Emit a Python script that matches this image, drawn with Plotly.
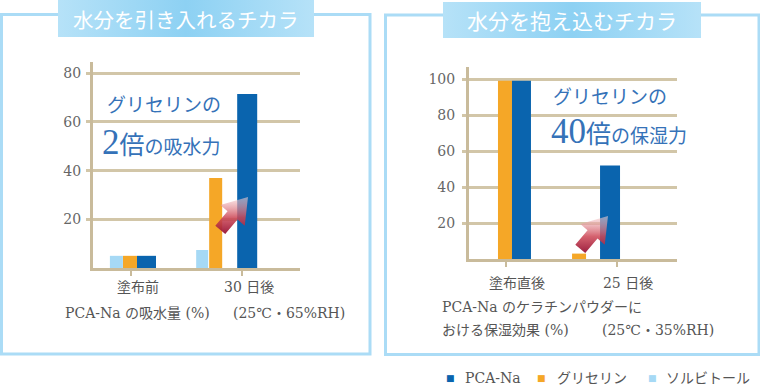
import plotly.graph_objects as go

W, H = 760, 386

# ---------------- data ----------------
series_names = ['PCA-Na', 'グリセリン', 'ソルビトール']

left_cats = ['塗布前', '30 日後']
left_pca = [5, 71.5]
left_gly = [5, 37]
left_sor = [5, 7.4]
left_ticks = [20, 40, 60, 80]

right_cats = ['塗布直後', '25 日後']
right_pca = [99, 52]
right_gly = [99, 3]
right_ticks = [20, 40, 60, 80, 100]

left_title = '水分を引き入れるチカラ'
right_title = '水分を抱え込むチカラ'
left_note1 = 'グリセリンの'
left_note2_big, left_note2_mid, left_note2_rest = '2', '倍', 'の吸水力'
right_note1 = 'グリセリンの'
right_note2_big, right_note2_mid, right_note2_rest = '40', '倍', 'の保湿力'
left_caption_a = 'PCA-Na の吸水量 (%)'
left_caption_b = '(25℃・65%RH)'
right_caption_1 = 'PCA-Na のケラチンパウダーに'
right_caption_2a = 'おける保湿効果 (%)'
right_caption_2b = '(25℃・35%RH)'

# ---------------- styles ----------------
C_PCA = '#0a64ae'
C_GLY = '#f5a727'
C_SOR = '#a6d9f5'
C_GRID = '#d2c6a8'
C_AXIS = '#c9bb9b'
C_TEXT = '#555555'
C_NOTE = '#3572b8'
C_FRAME = '#abdcf6'
SERIF = "'DejaVu Serif', 'Noto Sans CJK JP', serif"
SANS = "'Noto Sans CJK JP', sans-serif"

# per-bar offsets / widths (category units)
off_l_sor, wid_l_sor = [-0.19, -0.414], [0.117, 0.108]
off_l_gly, wid_l_gly = [-0.072, -0.297], [0.126, 0.117]
off_l_pca, wid_l_pca = [0.054, -0.045], [0.171, 0.18]
off_r_gly, wid_r_gly = [-0.072, -0.405], [0.126, 0.126]
off_r_pca, wid_r_pca = [0.054, -0.153], [0.171, 0.18]


def px_x(a, b):
    return [a / W, b / W]


def px_y(top, bottom):
    return [1 - bottom / H, 1 - top / H]


fig = go.Figure()

# left chart bars
fig.add_trace(go.Bar(x=left_cats, y=left_sor, name=series_names[2], marker=dict(color=C_SOR, line=dict(width=0)),
                     offset=off_l_sor, width=wid_l_sor, xaxis='x', yaxis='y', showlegend=False))
fig.add_trace(go.Bar(x=left_cats, y=left_gly, name=series_names[1], marker=dict(color=C_GLY, line=dict(width=0)),
                     offset=off_l_gly, width=wid_l_gly, xaxis='x', yaxis='y', showlegend=False))
fig.add_trace(go.Bar(x=left_cats, y=left_pca, name=series_names[0], marker=dict(color=C_PCA, line=dict(width=0)),
                     offset=off_l_pca, width=wid_l_pca, xaxis='x', yaxis='y', showlegend=False))
# right chart bars
fig.add_trace(go.Bar(x=right_cats, y=right_gly, name=series_names[1], marker=dict(color=C_GLY, line=dict(width=0)),
                     offset=off_r_gly, width=wid_r_gly, xaxis='x2', yaxis='y2', showlegend=False))
fig.add_trace(go.Bar(x=right_cats, y=right_pca, name=series_names[0], marker=dict(color=C_PCA, line=dict(width=0)),
                     offset=off_r_pca, width=wid_r_pca, xaxis='x2', yaxis='y2', showlegend=False))

# ---------------- decorations on a pixel overlay ----------------
def box(x0, y0, x1, y1):
    return [x0, x1, x1, x0, x0], [y0, y0, y1, y1, y0]

title_scale = [[0, '#b6e2f8'], [0.5, '#8dd1f3'], [1, '#b6e2f8']]
for (x0, y0, x1, y1) in [(58, 0, 314, 37), (443, 2, 701, 38)]:
    bx, by = box(x0, y0, x1, y1)
    fig.add_trace(go.Scatter(x=bx, y=by, fill='toself', mode='none', xaxis='x3', yaxis='y3',
                             fillgradient=dict(type='horizontal', colorscale=title_scale),
                             hoverinfo='skip', showlegend=False))


def arrow(tx, ty):
    ux, uy = 0.645, -0.764
    nx, ny = 0.764, 0.645
    head_len, head_w, shaft_w, total = 24, 16, 6.5, 43
    bx, by = tx - head_len * ux, ty - head_len * uy
    cx, cy = tx - total * ux, ty - total * uy
    pts = [(tx, ty),
           (bx + head_w * nx, by + head_w * ny),
           (bx + shaft_w * nx, by + shaft_w * ny),
           (cx + shaft_w * nx, cy + shaft_w * ny),
           (cx - shaft_w * nx, cy - shaft_w * ny),
           (bx - shaft_w * nx, by - shaft_w * ny),
           (bx - head_w * nx, by - head_w * ny),
           (tx, ty)]
    return [p[0] for p in pts], [p[1] for p in pts]

arrow_scale = [[0, 'rgba(150,18,52,0.95)'], [0.45, 'rgba(205,70,85,0.85)'], [1, 'rgba(248,215,215,0.55)']]
for (tx, ty) in [(248, 197), (608, 216)]:
    ax_, ay_ = arrow(tx, ty)
    fig.add_trace(go.Scatter(x=ax_, y=ay_, fill='toself', mode='none', xaxis='x3', yaxis='y3',
                             fillgradient=dict(type='vertical', colorscale=arrow_scale),
                             hoverinfo='skip', showlegend=False))

shapes = []
for (x0, y0, x1, y1) in [(1.5, 14.5, 370, 354), (385.5, 15, 759, 354.5)]:
    shapes.append(dict(type='rect', xref='x3', yref='y3', x0=x0, y0=y0, x1=x1, y1=y1,
                       line=dict(color=C_FRAME, width=3), fillcolor='rgba(0,0,0,0)', layer='below'))

ann = []
def A(x, y, text, size, color=C_TEXT, family=SERIF, xanchor='left'):
    ann.append(dict(x=x, y=y, xref='x3', yref='y3', text=text, showarrow=False, xanchor=xanchor,
                    yanchor='middle', borderpad=0, font=dict(size=size, color=color, family=family)))

A(186, 18.5, left_title, 20.5, 'white', SANS, 'center')
A(572, 20, right_title, 21, 'white', SANS, 'center')

A(106, 103, left_note1, 19, C_NOTE, SANS)
A(101, 142, f'<span style="font-family:Liberation Serif;font-size:35px">{left_note2_big}</span>'
            f'<span style="font-size:25px">{left_note2_mid}</span>{left_note2_rest}', 19, C_NOTE, SANS)
A(552, 95, right_note1, 19, C_NOTE, SANS)
A(550, 131, f'<span style="font-family:Liberation Serif;font-size:35px">{right_note2_big}</span>'
            f'<span style="font-size:25px">{right_note2_mid}</span>{right_note2_rest}', 19, C_NOTE, SANS)

A(64, 313, left_caption_a, 14)
A(232, 313, left_caption_b, 14)
A(441, 307, right_caption_1, 14)
A(441, 330, right_caption_2a, 14)
A(601, 330, right_caption_2b, 14)

# legend
for (sx, tx, name, col) in [(450, 464, series_names[0], C_PCA), (541, 556, series_names[1], C_GLY),
                            (652, 665, series_names[2], C_SOR)]:
    A(sx, 378, '■', 9, col, 'DejaVu Sans', 'center')
    A(tx, 378, name, 14)

tick_font = dict(size=14, color='#666666', family=SERIF)
cat_font = dict(size=14, color=C_TEXT, family=SERIF)

fig.update_layout(
    width=W, height=H, autosize=False,
    margin=dict(l=0, r=0, t=0, b=0),
    paper_bgcolor='white', plot_bgcolor='rgba(0,0,0,0)',
    barmode='overlay', showlegend=False,
    shapes=shapes, annotations=ann,
    xaxis=dict(domain=px_x(93, 300), type='category', range=[-0.342, 1.52], anchor='y',
               showline=True, linecolor=C_AXIS, linewidth=3, showgrid=False, zeroline=False,
               ticks='outside', ticklen=5, tickwidth=2, tickcolor=C_AXIS, tickfont=cat_font,
               ticklabelstandoff=-1, ticklabelshift=7, fixedrange=True),
    yaxis=dict(domain=px_y(62, 268), range=[0, 84.6], anchor='x', tickvals=left_ticks,
               showline=True, linecolor=C_AXIS, linewidth=3, showgrid=True, gridcolor=C_GRID, gridwidth=2.5,
               zeroline=False, ticks='outside', ticklen=4, tickwidth=2.5, tickcolor=C_GRID,
               tickfont=tick_font, ticklabelstandoff=2, fixedrange=True),
    xaxis2=dict(domain=px_x(469, 677), type='category', range=[-0.333, 1.54], anchor='y2',
                showline=True, linecolor=C_AXIS, linewidth=3, showgrid=False, zeroline=False,
                ticks='outside', ticklen=5, tickwidth=2, tickcolor=C_AXIS, tickfont=cat_font,
                ticklabelstandoff=4, ticklabelshift=11, fixedrange=True),
    yaxis2=dict(domain=px_y(67, 259), range=[0, 106.7], anchor='x2', tickvals=right_ticks,
                showline=True, linecolor=C_AXIS, linewidth=3, showgrid=True, gridcolor=C_GRID, gridwidth=2.5,
                zeroline=False, ticks='outside', ticklen=4, tickwidth=2.5, tickcolor=C_GRID,
                tickfont=tick_font, ticklabelstandoff=4, fixedrange=True),
    xaxis3=dict(domain=[0, 1], range=[0, W], anchor='y3', visible=False, fixedrange=True),
    yaxis3=dict(domain=[0, 1], range=[H, 0], anchor='x3', visible=False, fixedrange=True),
)

fig.write_html('out.html', config={'displayModeBar': False},
               post_script="document.body.style.margin='0';document.body.style.overflow='hidden';")
